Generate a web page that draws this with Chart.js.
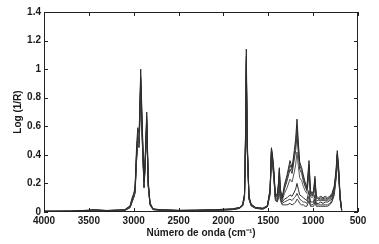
<!DOCTYPE html>
<html>
<head>
<meta charset="utf-8">
<script src="https://cdn.jsdelivr.net/npm/chart.js@4/dist/chart.umd.min.js"></script>
<style>
  html, body { margin: 0; padding: 0; background: #fff; }
  #wrap { width: 379px; height: 244px; }
</style>
</head>
<body>
<div id="wrap"><canvas id="spectra"></canvas></div>
<script>
// wavenumbers (cm-1), shared by every spectrum
const wavenumbers = [
  4000, 3700, 3500, 3450, 3300, 3100, 3040, 3020, 3000, 2985,
  2968, 2955, 2940, 2922, 2905, 2885, 2870, 2855, 2838, 2818,
  2785, 2700, 2500, 2300, 2100, 1900, 1820, 1785, 1765, 1752,
  1745, 1735, 1715, 1690, 1640, 1560, 1510, 1480, 1465, 1455,
  1440, 1420, 1400, 1385, 1377, 1365, 1345, 1320, 1290, 1258,
  1235, 1210, 1195, 1180, 1165, 1150, 1128, 1110, 1090, 1070,
  1046, 1030, 1010, 995, 980, 965, 940, 915, 890, 865,
  840, 815, 790, 765, 745, 731, 715, 700, 682
];

// Log(1/R), one array per spectrum
const spectrum1 = [
  0.005, 0.006, 0.013, 0.016, 0.010, 0.016, 0.045, 0.095, 0.13, 0.17,
  0.46, 0.59, 0.55, 1.00, 0.62, 0.21, 0.42, 0.70, 0.22, 0.065,
  0.022, 0.016, 0.011, 0.013, 0.016, 0.022, 0.032, 0.055, 0.13, 0.62,
  1.14, 0.52, 0.11, 0.055, 0.032, 0.026, 0.045, 0.16, 0.45, 0.41,
  0.31, 0.11, 0.13, 0.21, 0.31, 0.16, 0.10, 0.19, 0.26, 0.36,
  0.31, 0.43, 0.51, 0.65, 0.49, 0.35, 0.31, 0.26, 0.21, 0.17,
  0.36, 0.15, 0.13, 0.15, 0.25, 0.11, 0.10, 0.11, 0.10, 0.11,
  0.10, 0.11, 0.13, 0.18, 0.29, 0.43, 0.31, 0.12, 0.015
];
const spectrum2 = [
  0.004, 0.007, 0.011, 0.014, 0.009, 0.014, 0.04, 0.085, 0.12, 0.16,
  0.42, 0.55, 0.52, 0.95, 0.58, 0.19, 0.40, 0.67, 0.20, 0.06,
  0.020, 0.015, 0.010, 0.012, 0.015, 0.020, 0.030, 0.05, 0.12, 0.58,
  1.09, 0.49, 0.10, 0.05, 0.030, 0.025, 0.042, 0.15, 0.43, 0.40,
  0.30, 0.10, 0.12, 0.20, 0.30, 0.15, 0.09, 0.17, 0.24, 0.33,
  0.29, 0.40, 0.47, 0.60, 0.45, 0.33, 0.29, 0.24, 0.19, 0.16,
  0.33, 0.14, 0.12, 0.14, 0.23, 0.10, 0.09, 0.10, 0.09, 0.10,
  0.09, 0.10, 0.12, 0.17, 0.27, 0.41, 0.29, 0.11, 0.014
];
const spectrum3 = [
  0.006, 0.005, 0.012, 0.013, 0.011, 0.015, 0.038, 0.08, 0.12, 0.15,
  0.40, 0.52, 0.50, 0.91, 0.55, 0.18, 0.38, 0.64, 0.19, 0.055,
  0.019, 0.014, 0.011, 0.011, 0.014, 0.019, 0.028, 0.048, 0.11, 0.55,
  1.04, 0.47, 0.10, 0.048, 0.028, 0.024, 0.04, 0.14, 0.42, 0.38,
  0.28, 0.10, 0.11, 0.18, 0.28, 0.14, 0.09, 0.16, 0.22, 0.30,
  0.27, 0.37, 0.43, 0.54, 0.41, 0.30, 0.27, 0.22, 0.18, 0.15,
  0.31, 0.13, 0.11, 0.13, 0.21, 0.10, 0.09, 0.09, 0.09, 0.09,
  0.09, 0.10, 0.11, 0.16, 0.26, 0.40, 0.28, 0.11, 0.013
];
const spectrum4 = [
  0.005, 0.006, 0.010, 0.015, 0.010, 0.013, 0.036, 0.08, 0.11, 0.15,
  0.41, 0.53, 0.51, 0.93, 0.56, 0.19, 0.39, 0.65, 0.20, 0.06,
  0.021, 0.015, 0.012, 0.013, 0.016, 0.021, 0.031, 0.052, 0.12, 0.57,
  1.06, 0.48, 0.10, 0.05, 0.03, 0.026, 0.043, 0.15, 0.41, 0.37,
  0.27, 0.09, 0.10, 0.16, 0.25, 0.12, 0.08, 0.13, 0.17, 0.23,
  0.21, 0.28, 0.33, 0.42, 0.32, 0.24, 0.22, 0.18, 0.15, 0.13,
  0.26, 0.11, 0.10, 0.11, 0.18, 0.08, 0.08, 0.08, 0.08, 0.08,
  0.08, 0.09, 0.10, 0.15, 0.25, 0.39, 0.27, 0.10, 0.013
];
const spectrum5 = [
  0.004, 0.005, 0.010, 0.012, 0.008, 0.012, 0.034, 0.075, 0.11, 0.14,
  0.39, 0.50, 0.48, 0.89, 0.53, 0.18, 0.37, 0.62, 0.19, 0.055,
  0.018, 0.013, 0.010, 0.011, 0.013, 0.018, 0.027, 0.046, 0.11, 0.54,
  1.01, 0.46, 0.09, 0.045, 0.027, 0.022, 0.04, 0.14, 0.44, 0.39,
  0.28, 0.09, 0.09, 0.14, 0.22, 0.10, 0.07, 0.09, 0.10, 0.12,
  0.11, 0.14, 0.16, 0.20, 0.16, 0.12, 0.11, 0.10, 0.09, 0.08,
  0.15, 0.07, 0.07, 0.07, 0.12, 0.06, 0.06, 0.07, 0.06, 0.07,
  0.07, 0.08, 0.09, 0.14, 0.26, 0.40, 0.28, 0.10, 0.012
];
const spectrum6 = [
  0.005, 0.004, 0.009, 0.013, 0.009, 0.011, 0.032, 0.07, 0.10, 0.14,
  0.37, 0.48, 0.46, 0.87, 0.51, 0.17, 0.36, 0.61, 0.18, 0.05,
  0.017, 0.013, 0.009, 0.010, 0.012, 0.017, 0.026, 0.045, 0.10, 0.52,
  0.98, 0.45, 0.09, 0.044, 0.026, 0.021, 0.038, 0.13, 0.41, 0.37,
  0.26, 0.08, 0.08, 0.12, 0.20, 0.09, 0.06, 0.07, 0.08, 0.09,
  0.08, 0.10, 0.11, 0.13, 0.11, 0.09, 0.08, 0.07, 0.07, 0.06,
  0.11, 0.05, 0.05, 0.06, 0.09, 0.05, 0.05, 0.05, 0.05, 0.05,
  0.05, 0.06, 0.08, 0.13, 0.24, 0.37, 0.26, 0.09, 0.011
];
const spectrum7 = [
  0.003, 0.004, 0.008, 0.011, 0.007, 0.010, 0.03, 0.065, 0.10, 0.13,
  0.36, 0.47, 0.45, 0.85, 0.50, 0.17, 0.35, 0.60, 0.18, 0.05,
  0.016, 0.012, 0.009, 0.009, 0.011, 0.016, 0.025, 0.043, 0.10, 0.50,
  0.96, 0.44, 0.09, 0.042, 0.025, 0.02, 0.036, 0.12, 0.38, 0.35,
  0.25, 0.08, 0.07, 0.10, 0.18, 0.08, 0.05, 0.05, 0.05, 0.06,
  0.05, 0.06, 0.07, 0.09, 0.08, 0.06, 0.05, 0.05, 0.04, 0.04,
  0.08, 0.04, 0.04, 0.04, 0.07, 0.04, 0.04, 0.04, 0.04, 0.04,
  0.04, 0.05, 0.07, 0.12, 0.23, 0.35, 0.25, 0.09, 0.01
];

const allSpectra = [spectrum1, spectrum2, spectrum3, spectrum4, spectrum5, spectrum6, spectrum7];
const lineColors = ['#2a2a2a', '#444', '#333', '#555', '#2e2e2e', '#444', '#383838'];

const xTicks = [4000, 3500, 3000, 2500, 2000, 1500, 1000, 500];
const yTicks = [0, 0.2, 0.4, 0.6, 0.8, 1, 1.2, 1.4];

// MATLAB-like box with inward ticks
const boxPlugin = {
  id: 'boxPlugin',
  afterDraw(chart) {
    const { ctx, chartArea: a, scales } = chart;
    const len = 4;
    ctx.save();
    ctx.strokeStyle = '#222';
    ctx.lineWidth = 1;
    ctx.strokeRect(a.left + 0.5, a.top + 0.5, a.right - a.left - 1, a.bottom - a.top - 1);
    ctx.beginPath();
    scales.x.ticks.forEach(t => {
      const px = Math.round(scales.x.getPixelForValue(t.value)) + 0.5;
      ctx.moveTo(px, a.bottom); ctx.lineTo(px, a.bottom - len);
      ctx.moveTo(px, a.top); ctx.lineTo(px, a.top + len);
    });
    scales.y.ticks.forEach(t => {
      const py = Math.round(scales.y.getPixelForValue(t.value)) + 0.5;
      ctx.moveTo(a.left, py); ctx.lineTo(a.left + len, py);
      ctx.moveTo(a.right, py); ctx.lineTo(a.right - len, py);
    });
    ctx.stroke();
    ctx.restore();
  }
};

const font = { family: '"Liberation Sans", Arial, sans-serif', size: 10, weight: 'bold' };

const ctx = document.getElementById('spectra').getContext('2d');
new Chart(ctx, {
  type: 'line',
  data: {
    datasets: allSpectra.map((s, k) => ({
      data: wavenumbers.map((w, i) => ({ x: w, y: s[i] })),
      borderColor: lineColors[k],
      borderWidth: 1,
      pointRadius: 0,
      tension: 0,
      fill: false
    }))
  },
  options: {
    responsive: true,
    maintainAspectRatio: false,
    animation: false,
    layout: { padding: { left: 0, right: 21, top: 12, bottom: 0 } },
    plugins: { legend: { display: false }, tooltip: { enabled: false } },
    scales: {
      x: {
        type: 'linear',
        reverse: true,
        min: 500,
        max: 4000,
        afterBuildTicks: s => { s.ticks = xTicks.map(v => ({ value: v })); },
        afterFit: s => { s.height = 32; },
        grid: { display: false, drawTicks: false },
        border: { display: false },
        ticks: { font, color: '#1a1a1a', padding: 3, maxRotation: 0, autoSkip: false, callback: v => String(v) },
        title: { display: true, text: 'Número de onda (cm⁻¹)', font, color: '#1a1a1a', padding: { top: 0, bottom: 5 } }
      },
      y: {
        min: 0,
        max: 1.4,
        afterBuildTicks: s => { s.ticks = yTicks.map(v => ({ value: v })); },
        afterFit: s => { s.width = 44; },
        grid: { display: false, drawTicks: false },
        border: { display: false },
        ticks: { font, color: '#1a1a1a', padding: 3, autoSkip: false, callback: v => String(v) },
        title: { display: true, text: 'Log (1/R)', font, color: '#1a1a1a', padding: { top: 12, bottom: 0 } }
      }
    }
  },
  plugins: [boxPlugin]
});
</script>
</body>
</html>
